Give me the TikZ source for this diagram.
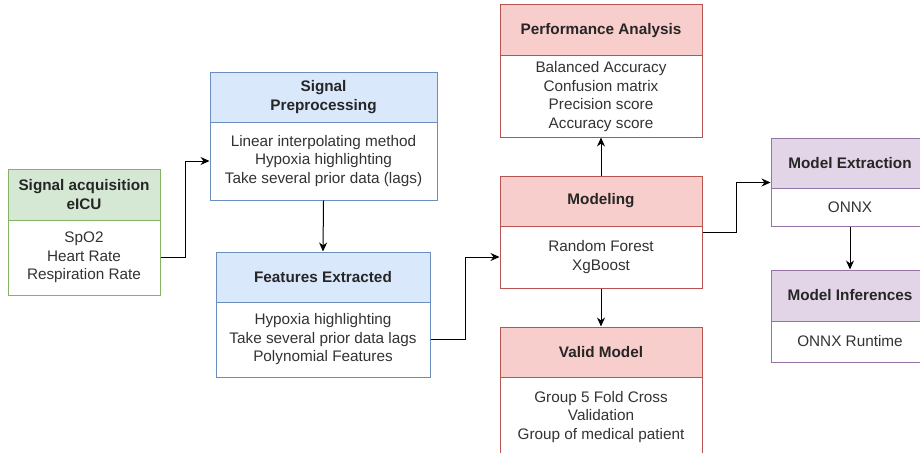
\documentclass[tikz,border=0pt]{standalone}
\usepackage{fontspec}
\setmainfont{Liberation Sans}
\usetikzlibrary{arrows.meta}
\definecolor{greenfill}{HTML}{D5E8D4}
\definecolor{greenline}{HTML}{82B366}
\definecolor{bluefill}{HTML}{DAE8FC}
\definecolor{blueline}{HTML}{6C8EBF}
\definecolor{redfill}{HTML}{F8CECC}
\definecolor{redline}{HTML}{B85450}
\definecolor{purplefill}{HTML}{E1D5E7}
\definecolor{purpleline}{HTML}{9673A6}
\definecolor{textgray}{HTML}{333333}
\begin{document}
\begin{tikzpicture}[x=1pt,y=-1pt,
    box/.style={draw, line width=1pt, inner sep=0pt, align=center, fill=white,
      text=textgray, font=\fontsize{15.3}{18.5}\selectfont},
    head/.style={box, text=black!85, font=\fontsize{15.3}{18.5}\selectfont\bfseries},
    link/.style={-{Stealth[length=9pt,width=8pt]}, line width=1pt}]
  \clip (0,0) rectangle (920,452);

  % acquisition
  \node (acqh) [head, draw=greenline, fill=greenfill, minimum width=152pt, minimum height=51pt] at (84,194.5) {Signal acquisition\\eICU};
  \node (acqb) [box, draw=greenline, minimum width=152pt, minimum height=75pt] at (84,257.5) {SpO2\\Heart Rate\\Respiration Rate};

  % preprocessing and features
  \node (preh) [head, draw=blueline, fill=bluefill, minimum width=227pt, minimum height=50pt] at (323.5,97) {Signal\\Preprocessing};
  \node (preb) [box, draw=blueline, minimum width=227pt, minimum height=78pt] at (323.5,161) {Linear interpolating method\\Hypoxia highlighting\\Take several prior data (lags)};
  \node (feath) [head, draw=blueline, fill=bluefill, minimum width=214pt, minimum height=50pt] at (323,277) {Features Extracted};
  \node (featb) [box, draw=blueline, minimum width=214pt, minimum height=75pt] at (323,339.5) {Hypoxia highlighting\\Take several prior data lags\\Polynomial Features};

  % modeling column
  \node (perfh) [head, draw=redline, fill=redfill, minimum width=202pt, minimum height=51pt] at (601,30.5) {Performance Analysis};
  \node (perfb) [box, draw=redline, minimum width=202pt, minimum height=81pt] at (601,96.5) {Balanced Accuracy\\Confusion matrix\\Precision score\\Accuracy score};
  \node (modh) [head, draw=redline, fill=redfill, minimum width=202pt, minimum height=50pt] at (601,201) {Modeling};
  \node (modb) [box, draw=redline, minimum width=202pt, minimum height=62pt] at (601,257) {Random Forest\\XgBoost};
  \node (validh) [head, draw=redline, fill=redfill, minimum width=202pt, minimum height=50pt] at (601,352) {Valid Model};
  \node (validb) [box, draw=redline, minimum width=202pt, minimum height=80pt] at (601,417) {Group 5 Fold Cross\\Validation\\Group of medical patient};

  % export
  \node (exth) [head, draw=purpleline, fill=purplefill, minimum width=158pt, minimum height=50pt] at (850,163) {Model Extraction};
  \node (extb) [box, draw=purpleline, minimum width=158pt, minimum height=38pt] at (850,207) {ONNX};
  \node (infh) [head, draw=purpleline, fill=purplefill, minimum width=158pt, minimum height=51pt] at (850,295.5) {Model Inferences};
  \node (infb) [box, draw=purpleline, minimum width=158pt, minimum height=41pt] at (850,341.5) {ONNX Runtime};

  \draw [link] (acqb.east) -- ++(25,0) |- (preb.west);
  \draw [link] (preb.south) -- (feath.north);
  \draw [link] (featb.east) -- ++(35,0) |- (modb.west);
  \draw [link] (modh.north) -- (perfb.south);
  \draw [link] (modb.south) -- (validh.north);
  \draw [link] ([yshift=25pt]modb.east) -- ++(34,0) |- ([yshift=6pt]exth.south west);
  \draw [link] (extb.south) -- (infh.north);
\end{tikzpicture}
\end{document}
